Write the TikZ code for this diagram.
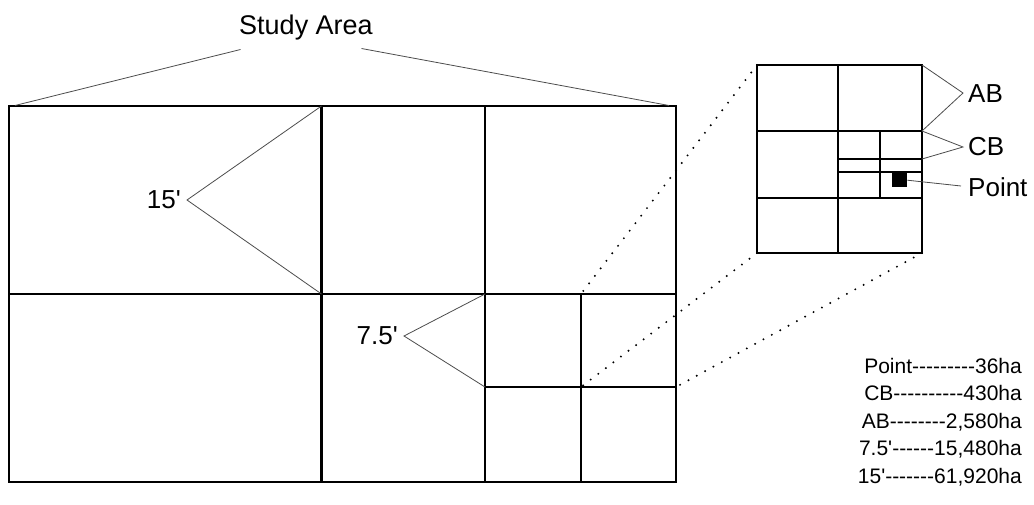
\documentclass[tikz,border=0pt]{standalone}
\usepackage{fontspec}
\setmainfont{Liberation Sans}[Ligatures=TeXOff]
\begin{document}
\begin{tikzpicture}[x=1pt,y=-1pt,
  grid/.style={line width=2.1pt, line cap=rect},
  callout/.style={line width=0.8pt, draw=black!70},
  zoomline/.style={line width=2.2pt, dash pattern=on 0pt off 9.5pt, line cap=round},
  lbl/.style={font=\fontsize{26}{30}\selectfont, inner sep=0pt},
  leg/.style={font=\fontsize{21}{25}\selectfont, inner sep=0pt, anchor=base east}]
\useasboundingbox (0,0) rectangle (1034,504);
% main study area grid
\coordinate (TL) at (9,106);
\coordinate (BR) at (676,482);
\coordinate (V1t) at (321.5,106);
\coordinate (V1m) at (321.5,294);
\coordinate (V1b) at (321.5,482);
\coordinate (V2t) at (485,106);
\coordinate (V2m) at (485,294);
\coordinate (V2h) at (485,387);
\coordinate (V2b) at (485,482);
\coordinate (Ml) at (9,294);
\coordinate (Mr) at (676,294);
\coordinate (S1t) at (581,294);
\coordinate (S1h) at (581,387);
\coordinate (S1b) at (581,482);
\coordinate (Shr) at (676,387);
\draw[grid] (TL) rectangle (BR);
\draw[grid] (V1t) -- (V1b);
\draw[grid] (V2t) -- (V2b);
\draw[grid] (Ml) -- (Mr);
\draw[grid] (S1t) -- (S1b);
\draw[grid] (V2h) -- (Shr);
% inset
\coordinate (I1) at (757,65);
\coordinate (I2) at (922,65);
\coordinate (I3) at (922,253);
\coordinate (I4) at (757,253);
\coordinate (Ivt) at (838,65);
\coordinate (Ivb) at (838,253);
\coordinate (Ia) at (757,131);
\coordinate (Ib) at (922,131);
\coordinate (Ic) at (757,198);
\coordinate (Id) at (922,198);
\coordinate (Jvt) at (880,131);
\coordinate (Jvb) at (880,198);
\coordinate (Ja) at (838,159);
\coordinate (Jb) at (922,159);
\coordinate (Jc) at (838,172);
\coordinate (Jd) at (922,172);
\draw[grid] (I1) rectangle (I3);
\draw[grid] (Ivt) -- (Ivb);
\draw[grid] (Ia) -- (Ib);
\draw[grid] (Ic) -- (Id);
\draw[grid] (Jvt) -- (Jvb);
\draw[grid] (Ja) -- (Jb);
\draw[grid] (Jc) -- (Jd);
\node[fill=black, inner sep=0pt, minimum width=15pt, minimum height=14pt, anchor=north west] (pt) at (892,173) {};
% dotted zoom lines
\draw[zoomline] (I1) -- (S1t);
\draw[zoomline] (I4) -- (S1h);
\draw[zoomline] (I3) -- (Shr);
% Study Area
\node[lbl, font=\fontsize{27}{32}\selectfont, anchor=base] (study) at (306,34) {Study Area};
\coordinate (saL) at (240.5,49.5);
\coordinate (saR) at (361.5,48.5);
\coordinate (saLe) at (15,105.5);
\coordinate (saRe) at (669,105.5);
\draw[callout] (saL) -- (saLe);
\draw[callout] (saR) -- (saRe);
% 15'
\coordinate (a15) at (187,200);
\node[lbl, anchor=east] (l15) at (181,200) {15'};
\draw[callout] (V1t) -- (a15) -- (V1m);
% 7.5'
\coordinate (a75) at (404,336);
\node[lbl, anchor=east] (l75) at (398,336) {7.5'};
\draw[callout] (V2m) -- (a75) -- (V2h);
% AB, CB, Point
\coordinate (aAB) at (963,93);
\node[lbl, anchor=west] (lAB) at (968,94) {AB};
\draw[callout] (I2) -- (aAB) -- (Ib);
\coordinate (aCB) at (963,147);
\node[lbl, anchor=west] (lCB) at (968,147) {CB};
\draw[callout] (Ib) -- (aCB) -- (Jb);
\coordinate (aPt) at (961,186);
\node[lbl, anchor=west] (lPt) at (968,187) {Point};
\draw[callout] (pt.east) -- (aPt);
% legend
\node[leg] (g1) at (1022,373.5) {Point---------36ha};
\node[leg] (g2) at (1022,400.5) {CB----------430ha};
\node[leg] (g3) at (1022,428) {AB--------2,580ha};
\node[leg] (g4) at (1022,455.5) {7.5'------15,480ha};
\node[leg] (g5) at (1022,483) {15'-------61,920ha};
\end{tikzpicture}
\end{document}
